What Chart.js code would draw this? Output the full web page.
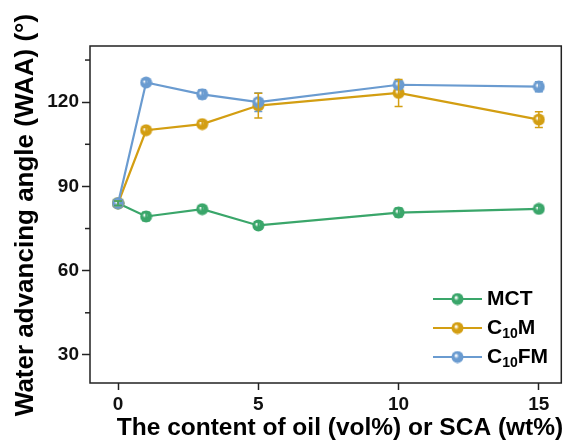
<!DOCTYPE html>
<html>
<head>
<meta charset="utf-8">
<script src="https://cdn.jsdelivr.net/npm/chart.js@4"></script>
<style>
  html, body { margin: 0; padding: 0; background: #fff; }
  #wrap { width: 570px; height: 441px; position: relative; }
</style>
</head>
<body>
<div id="wrap"><canvas id="waaChart"></canvas></div>
<script>
const contenido = [0, 1, 3, 5, 10, 15];
const mct = [84, 79.3, 81.9, 76.1, 80.7, 82];
const mctErr = [0.8, 1.5, 1.0, 1.2, 1.6, 1.0];
const c10m = [84, 110, 112.2, 118.8, 123.3, 113.8];
const c10mErr = [0.8, 1.0, 1.0, 4.4, 4.8, 2.8];
const c10fm = [84, 127, 122.8, 120, 126.2, 125.5];
const c10fmErr = [0.8, 1.0, 1.6, 3.3, 1.3, 1.8];
const yTicks = [30, 60, 90, 120];
const xTicks = [0, 5, 10, 15];
const tituloX = 'The content of oil (vol%) or SCA (wt%)';
const tituloY = 'Water advancing angle (WAA) (°)';

const FONT = '"Liberation Sans", Arial, sans-serif';

// bolinha com brilho, parecida com o marcador do Origin
function marcador(cor) {
    const c = document.createElement('canvas');
    c.width = 13; c.height = 13;
    const g = c.getContext('2d');
    const grad = g.createRadialGradient(5, 5, 0.5, 6.5, 6.5, 6.5);
    grad.addColorStop(0, '#ffffff');
    grad.addColorStop(0.35, cor);
    grad.addColorStop(1, cor);
    g.fillStyle = grad;
    g.beginPath();
    g.arc(6.5, 6.5, 6, 0, Math.PI * 2);
    g.fill();
    return c;
}

const cores = { mct: '#3aa66a', c10m: '#d39e12', c10fm: '#6a9bd0' };

function serie(label, valores, erros, cor, ordem) {
    return {
        label: label,
        data: contenido.map((x, i) => ({ x: x, y: valores[i] })),
        erros: erros,
        borderColor: cor,
        backgroundColor: cor,
        borderWidth: 2.2,
        pointStyle: marcador(cor),
        pointRadius: 6.5,
        order: ordem
    };
}

const barrasErro = {
    id: 'barrasErro',
    afterDatasetsDraw(chart) {
        const ctx = chart.ctx;
        const xs = chart.scales.x, ys = chart.scales.y;
        chart.data.datasets.slice().reverse().forEach(ds => {
            ctx.save();
            ctx.strokeStyle = ds.borderColor;
            ctx.lineWidth = 1.5;
            ds.data.forEach((p, i) => {
                const e = ds.erros[i];
                const px = xs.getPixelForValue(p.x);
                const top = ys.getPixelForValue(p.y + e);
                const bot = ys.getPixelForValue(p.y - e);
                ctx.beginPath();
                ctx.moveTo(px, top); ctx.lineTo(px, bot);
                ctx.moveTo(px - 4, top); ctx.lineTo(px + 4, top);
                ctx.moveTo(px - 4, bot); ctx.lineTo(px + 4, bot);
                ctx.stroke();
            });
            ctx.restore();
        });
    }
};

const moldura = {
    id: 'moldura',
    afterDraw(chart) {
        const ctx = chart.ctx;
        const a = chart.chartArea;
        const ys = chart.scales.y;
        ctx.save();
        ctx.strokeStyle = '#222';
        ctx.lineWidth = 1.5;
        ctx.strokeRect(a.left, a.top, a.right - a.left, a.bottom - a.top);
        // ticks menores
        [45, 75, 105, 135].forEach(v => {
            const py = ys.getPixelForValue(v);
            ctx.beginPath();
            ctx.moveTo(a.left - 5, py); ctx.lineTo(a.left, py);
            ctx.stroke();
        });

        // titulos dos eixos
        ctx.fillStyle = '#000';
        ctx.textAlign = 'center';
        ctx.textBaseline = 'middle';
        ctx.font = 'bold 24.5px ' + FONT;
        ctx.fillText(tituloX, 340, 428);
        ctx.save();
        ctx.translate(26, 215);
        ctx.rotate(-Math.PI / 2);
        ctx.font = 'bold 26px ' + FONT;
        ctx.fillText(tituloY, 0, 0);
        ctx.restore();

        // legenda dentro do grafico, com subscrito
        ctx.textAlign = 'left';
        chart.data.datasets.forEach((ds, i) => {
            const y = 299 + i * 29;
            ctx.strokeStyle = ds.borderColor;
            ctx.lineWidth = 2.2;
            ctx.beginPath();
            ctx.moveTo(433, y); ctx.lineTo(482, y);
            ctx.stroke();
            ctx.drawImage(ds.pointStyle, 451, y - 6.5);
            ctx.fillStyle = '#000';
            let x = 487;
            const partes = ds.label.match(/^C(\d+)(.*)$/);
            ctx.font = 'bold 21px ' + FONT;
            if (partes) {
                ctx.fillText('C', x, y);
                x += ctx.measureText('C').width;
                ctx.font = 'bold 14px ' + FONT;
                ctx.fillText(partes[1], x, y + 6);
                x += ctx.measureText(partes[1]).width;
                ctx.font = 'bold 21px ' + FONT;
                ctx.fillText(partes[2], x, y);
            } else {
                ctx.fillText(ds.label, x, y);
            }
        });
        ctx.restore();
    }
};

const ctx = document.getElementById('waaChart').getContext('2d');

new Chart(ctx, {
    type: 'line',
    data: {
        datasets: [
            serie('MCT', mct, mctErr, cores.mct, 2),
            serie('C10M', c10m, c10mErr, cores.c10m, 1),
            serie('C10FM', c10fm, c10fmErr, cores.c10fm, 0)
        ]
    },
    options: {
        responsive: true,
        maintainAspectRatio: false,
        animation: false,
        layout: { padding: { top: 46, right: 5, left: 0, bottom: 0 } },
        plugins: {
            legend: { display: false },
            tooltip: { enabled: false }
        },
        scales: {
            x: {
                type: 'linear',
                min: -1,
                max: 15.8,
                afterFit: s => { s.height = 58; },
                afterBuildTicks: s => { s.ticks = xTicks.map(v => ({ value: v })); },
                ticks: {
                    color: '#111',
                    font: { family: FONT, size: 19, weight: 'bold' },
                    padding: 3,
                    includeBounds: false
                },
                grid: { drawOnChartArea: false, tickLength: 7, tickWidth: 1.5, tickColor: '#222' },
                border: { display: false },
                title: { display: false }
            },
            y: {
                min: 20,
                max: 140,
                afterFit: s => { s.width = 90; },
                afterBuildTicks: s => { s.ticks = yTicks.map(v => ({ value: v })); },
                ticks: {
                    color: '#111',
                    font: { family: FONT, size: 19, weight: 'bold' },
                    padding: 3
                },
                grid: { drawOnChartArea: false, tickLength: 8, tickWidth: 1.5, tickColor: '#222' },
                border: { display: false },
                title: { display: false }
            }
        }
    },
    plugins: [barrasErro, moldura]
});
</script>
</body>
</html>
